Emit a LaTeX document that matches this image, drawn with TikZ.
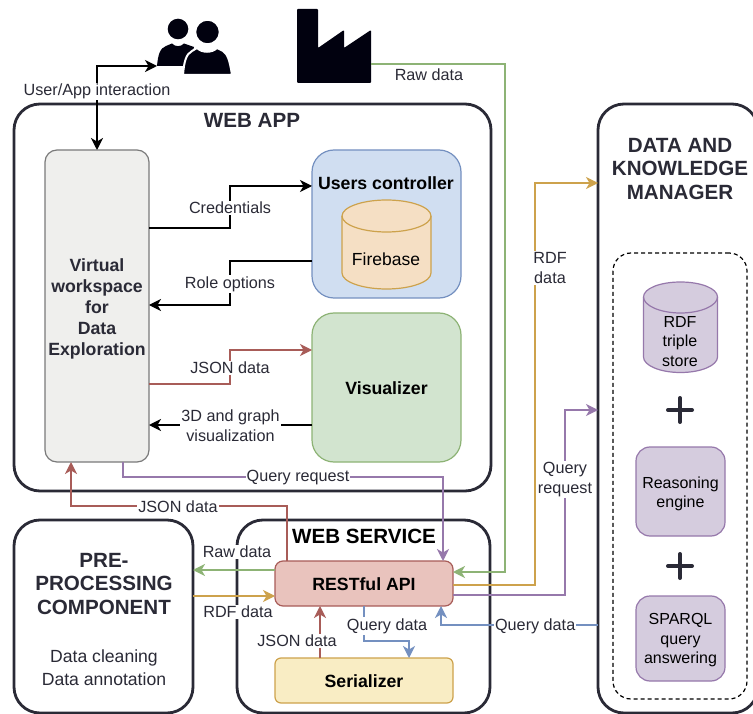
\documentclass[tikz,border=0pt]{standalone}
\usepackage{fontspec}
\setmainfont{Liberation Sans}
\usetikzlibrary{arrows.meta}
\definecolor{ink}{HTML}{2A2A36}
\definecolor{cred}{HTML}{A85C58}
\definecolor{cgold}{HTML}{CDA24C}
\definecolor{cgreen}{HTML}{8DB375}
\definecolor{cpurple}{HTML}{9678AB}
\definecolor{cblue}{HTML}{7490C0}
\definecolor{fgray}{HTML}{EFEFED}
\definecolor{fblue}{HTML}{D0DEF1}
\definecolor{forange}{HTML}{F5DFC4}
\definecolor{fgreen}{HTML}{D2E4CF}
\definecolor{fred}{HTML}{E9C3BD}
\definecolor{fyellow}{HTML}{F9EDC4}
\definecolor{fpurple}{HTML}{D5CCDE}
\definecolor{iconink}{HTML}{01010F}
\newcommand{\liftup}[1]{\rule{0pt}{#1pt}}
\tikzset{
  x=1pt,y=-1pt,
  >={Stealth[length=12pt,width=12pt,inset=3.5pt]},
  container/.style={draw=ink,line width=2.8pt,fill=white,rectangle,rounded corners=26pt,inner sep=0pt,outer sep=0pt},
  inner box/.style={draw,line width=1.2pt,rectangle,inner sep=0pt,outer sep=0pt,align=center,text=black},
  conn/.style={line width=1.35pt,line join=miter},
  lab/.style={fill=white,inner sep=1pt,align=center,text=ink,yshift=-1pt,font=\fontsize{16.2}{20}\selectfont},
  freelab/.style={inner sep=0pt,align=center,text=ink,font=\fontsize{16.2}{20}\selectfont},
  title/.style={inner sep=0pt,align=center,text=ink,font=\fontsize{20.6}{23.4}\selectfont\bfseries},
  boxtext/.style={font=\fontsize{17.7}{21}\selectfont\bfseries},
  plain text/.style={inner sep=0pt,align=center,text=ink,font=\fontsize{16}{19.6}\selectfont},
  dbbody/.style={line width=1.2pt},
  plusbar/.style={draw=ink,line width=4pt,line cap=round},
}
\begin{document}
\begin{tikzpicture}
\useasboundingbox (0,0) rectangle (753,714);
% containers
\node[container,minimum width=477pt,minimum height=387pt] (webapp) at (252.5,297.5) {};
\node[container,minimum width=179pt,minimum height=193pt] (prep) at (103.5,616.5) {};
\node[container,minimum width=253pt,minimum height=193pt] (websvc) at (363.5,616.5) {};
\node[container,minimum width=160pt,minimum height=609pt] (dkm) at (678,408.5) {};
\node[draw=black,line width=1.2pt,dash pattern=on 4pt off 3pt,rectangle,rounded corners=18pt,inner sep=0pt,outer sep=0pt,minimum width=134pt,minimum height=446pt] (dashbox) at (680,476) {};
% titles
\node[title] (webapptitle) at (252,120) {WEB APP};
\node[title,text=black] (websvctitle) at (364,536) {WEB SERVICE};
\node[title] (preptitle) at (104,584) {PRE-\\PROCESSING\\COMPONENT};
\node[title] (dkmtitle) at (680,169) {DATA AND\\KNOWLEDGE\\MANAGER};
\node[plain text,font=\fontsize{17.6}{23.4}\selectfont] (preptext) at (104,668) {Data cleaning\\Data annotation};
% inner boxes
\node[inner box,draw=black!52,fill=fgray,rounded corners=12pt,minimum width=104pt,minimum height=312pt,boxtext,text=ink] (wk) at (97,306) {\liftup{18}Virtual\\workspace\\for\\Data\\Exploration};
\node[inner box,draw=cblue,fill=fblue,rounded corners=22pt,minimum width=149pt,minimum height=148pt] (users) at (386.5,224) {};
\node[inner sep=0pt,boxtext,text=black] (userstitle) at (386,183) {Users controller};
\path[dbbody,draw=cgold,fill=forange] (342,216) -- (342,273) .. controls (342,281.8) and (362,289) .. (386.5,289) .. controls (411,289) and (431,281.8) .. (431,273) -- (431,216) .. controls (431,207.2) and (411,200) .. (386.5,200) .. controls (362,200) and (342,207.2) .. (342,216) -- cycle;
\draw[dbbody,cgold] (342,216) .. controls (342,224.8) and (362,232) .. (386.5,232) .. controls (411,232) and (431,224.8) .. (431,216);
\node[inner sep=0pt,text=black,font=\fontsize{17.5}{20}\selectfont] (fire) at (386,259) {Firebase};
\node[inner box,draw=cgreen,fill=fgreen,rounded corners=22pt,minimum width=149pt,minimum height=149pt,boxtext] (vis) at (386.5,387.5) {\liftup{15}Visualizer};
\node[inner box,draw=cred,fill=fred,rounded corners=8pt,minimum width=178pt,minimum height=45pt,boxtext] (api) at (364,583.5) {\liftup{15}RESTful API};
\node[inner box,draw=cgold,fill=fyellow,rounded corners=6pt,minimum width=178pt,minimum height=45pt,boxtext] (ser) at (364,680.5) {\liftup{15}Serializer};
\path[dbbody,draw=cpurple,fill=fpurple] (643.5,297) -- (643.5,357) .. controls (643.5,365.5) and (660,372.5) .. (680.5,372.5) .. controls (701,372.5) and (717.5,365.5) .. (717.5,357) -- (717.5,297) .. controls (717.5,288.5) and (701,282) .. (680.5,282) .. controls (660,282) and (643.5,288.5) .. (643.5,297) -- cycle;
\draw[dbbody,cpurple] (643.5,297) .. controls (643.5,305.5) and (660,313) .. (680.5,313) .. controls (701,313) and (717.5,305.5) .. (717.5,297);
\node[plain text,text=black] (rdf) at (680,341.5) {RDF\\triple\\store};
\node[inner box,draw=cpurple,fill=fpurple,rounded corners=14pt,minimum width=89pt,minimum height=89pt,font=\fontsize{16}{19.6}\selectfont] (reason) at (680.5,491.5) {\liftup{16.5}Reasoning\\engine};
\node[inner box,draw=cpurple,fill=fpurple,rounded corners=14pt,minimum width=89pt,minimum height=85pt,font=\fontsize{16}{19.6}\selectfont] (sparql) at (680.5,638.5) {\liftup{15}SPARQL\\query\\answering};
% plus signs
\draw[plusbar] (668,410) -- (692,410) (680,398) -- (680,422);
\draw[plusbar] (668,566) -- (692,566) (680,554) -- (680,578);
% icons
\fill[iconink] (178,29) circle (10.3);
\path[fill=iconink] (157,66) .. controls (158,55) and (160,48) .. (166,46) -- (172,43.5) .. controls (175,47) and (181,47) .. (184,43.5) -- (194,47) -- (190,66) -- cycle;
\path[fill=iconink,draw=white,line width=2.4pt] (207.5,32) circle (12.5);
\path[fill=iconink,draw=white,line width=2pt] (183,75) .. controls (184,62) and (186,54) .. (192,51) -- (197,48) .. controls (202,53) and (212,53) .. (217,48) -- (223,51) .. controls (228,54) and (230,62) .. (232,75) -- cycle;
\node[inner sep=0pt,minimum width=74pt,minimum height=74pt,rectangle,outer sep=0pt] (factory) at (334,46) {};
\fill[iconink,rounded corners=1pt] (297,83) -- (297,9) -- (318,9) -- (318,48) -- (344,30) -- (344,48) -- (371,30) -- (371,83) -- cycle;
% connectors
\draw[conn,<->] (wk.north) -- node[lab,pos=.71] {User/App interaction} (wk.north |- 0,66) -- (157,66);
\draw[conn,cgreen,->] (factory.east |- 0,64) -- (505,64) -- (505,572) -- (api.east |- 0,572);
\draw[conn,->] (wk.east |- 0,228) -- (230,228) -- node[lab] {Credentials} (230,186) -- (users.west |- 0,186);
\draw[conn,->] (users.west |- 0,261) -- (230,261) -- node[lab] {Role options} (230,305) -- (wk.east |- 0,305);
\draw[conn,cred,->] (wk.east |- 0,384) -- (230,384) -- node[lab] {JSON data} (230,350) -- (vis.west |- 0,350);
\draw[conn,->] (vis.west |- 0,425) -- node[lab] {3D and graph\\visualization} (wk.east |- 0,425);
\draw[conn,cpurple,->] (123,0 |- wk.south) -- (123,477) -- node[lab,pos=.547] {Query request} (443,477) -- (443,0 |- api.north);
\draw[conn,cred,->] (287,0 |- api.north) -- (287,506) -- node[lab,pos=.505] {JSON data} (71,506) -- (71,0 |- wk.south);
\draw[conn,cgreen,->] (api.west |- 0,570) -- (prep.east |- 0,570);
\draw[conn,cgold,->] (prep.east |- 0,596) -- (api.west |- 0,596);
\draw[conn,cred,->] (320,0 |- ser.north) -- (320,0 |- api.south);
\draw[conn,cblue,->] (364,0 |- api.south) -- (364,641) -- (409,641) -- (409,0 |- ser.north);
\draw[conn,cblue,->] (dkm.west |- 0,625) -- node[lab,pos=.4] {Query data} (441,625) -- (441,0 |- api.south);
\draw[conn,cgold,->] (api.east |- 0,585) -- (535,585) -- (535,183) -- (dkm.west |- 0,183);
\draw[conn,cpurple,->] (api.east |- 0,595) -- (565,595) -- node[lab,pos=.63] {Query\\request} (565,410) -- (dkm.west |- 0,410);
% free labels
\node[freelab] (lraw1) at (429,75) {Raw data};
\node[lab,inner xsep=0pt] (lrdf1) at (550,267) {RDF\\data};
\node[lab] (lraw2) at (237,551) {Raw data};
\node[lab] (lrdf2) at (238,611) {RDF data};
\node[lab] (ljson3) at (297,640) {JSON data};
\node[lab] (lquery) at (387,625) {Query data};
\end{tikzpicture}
\end{document}
